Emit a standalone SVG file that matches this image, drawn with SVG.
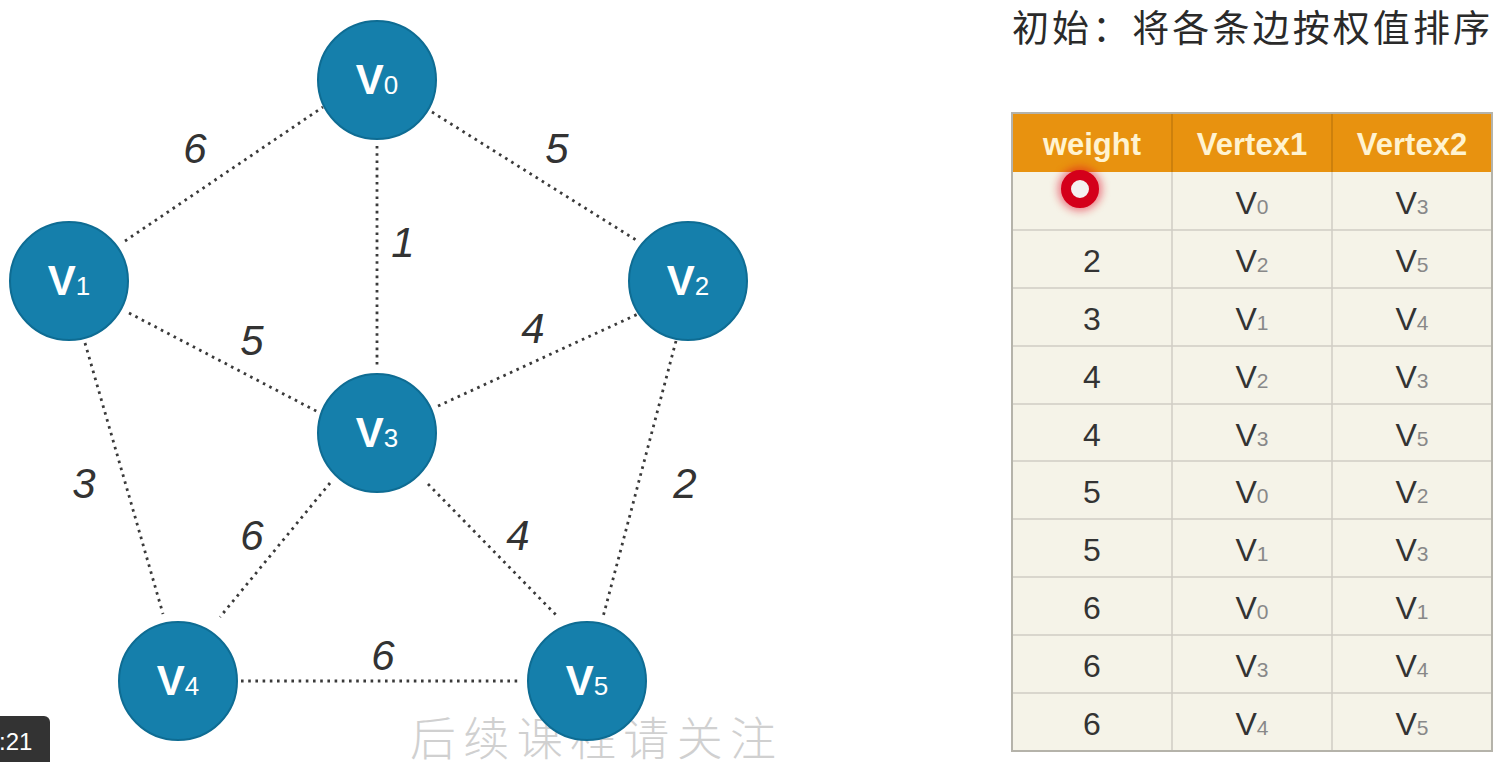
<svg xmlns="http://www.w3.org/2000/svg" width="1509" height="762" viewBox="0 0 1509 762">
  <defs>
    <style>
      .node circle { fill: #157fab; stroke: #0e6c93; stroke-width: 2; }
      .nlabel { font-family: "Liberation Sans", Arial, sans-serif; font-size: 42px; font-weight: bold; fill: #ffffff; text-anchor: middle; }
      .nsub { font-size: 26px; font-weight: normal; }
      .edge { stroke: #3a3a3a; stroke-width: 2.8; stroke-dasharray: 2.6 4.6; fill: none; }
      .elabel { font-family: "Liberation Sans", Arial, sans-serif; font-size: 42px; font-style: italic; fill: #333333; text-anchor: middle; }
      .hdr { font-family: "Liberation Sans", Arial, sans-serif; font-size: 31px; font-weight: bold; fill: #fff3d0; text-anchor: middle; }
      .cell { font-family: "Liberation Sans", Arial, sans-serif; font-size: 32px; fill: #333333; text-anchor: middle; }
      .csub { font-size: 21px; fill: #888888; }
      .grid { stroke: #cfcdc4; stroke-width: 1.5; }
      .hgrid { stroke: #c57a0c; stroke-width: 1.5; }
    </style>
    <filter id="blur" x="-1" y="-1" width="3" height="3">
      <feGaussianBlur stdDeviation="4"/>
    </filter>
  </defs>

  <rect x="0" y="0" width="1509" height="762" fill="#ffffff"/>

  <!-- watermark (behind nodes) -->
  <text x="410" y="755" font-family="'Noto Sans CJK SC', sans-serif" font-size="46" font-weight="300" fill="#d0d0d0" textLength="366" lengthAdjust="spacing">后续课程请关注</text>

  <!-- connectors -->
  <g id="edges">
    <line class="edge" x1="125" y1="241" x2="323" y2="107"/>
    <line class="edge" x1="432" y1="112" x2="636" y2="240"/>
    <line class="edge" x1="377" y1="146" x2="377" y2="366"/>
    <line class="edge" x1="129" y1="313" x2="318" y2="412"/>
    <line class="edge" x1="85" y1="343" x2="163" y2="614"/>
    <line class="edge" x1="438" y1="406" x2="638" y2="314"/>
    <line class="edge" x1="676" y1="341" x2="603" y2="617"/>
    <line class="edge" x1="330" y1="483" x2="220" y2="617"/>
    <line class="edge" x1="428" y1="484" x2="558" y2="617"/>
    <line class="edge" x1="241" y1="681" x2="521" y2="681"/>
  </g>

  <g id="edge-labels">
    <text class="elabel" x="195" y="163">6</text>
    <text class="elabel" x="557" y="163">5</text>
    <text class="elabel" x="403" y="257">1</text>
    <text class="elabel" x="252" y="355">5</text>
    <text class="elabel" x="533" y="343">4</text>
    <text class="elabel" x="84" y="498">3</text>
    <text class="elabel" x="685" y="498">2</text>
    <text class="elabel" x="252" y="550">6</text>
    <text class="elabel" x="518" y="550">4</text>
    <text class="elabel" x="383" y="670">6</text>
  </g>

  <!-- nodes -->
  <g id="V0" class="node">
    <circle cx="377" cy="80" r="59"/>
    <text class="nlabel" x="377" y="94">V<tspan class="nsub">0</tspan></text>
  </g>
  <g id="V1" class="node">
    <circle cx="69" cy="281" r="59"/>
    <text class="nlabel" x="69" y="295">V<tspan class="nsub">1</tspan></text>
  </g>
  <g id="V2" class="node">
    <circle cx="688" cy="281" r="59"/>
    <text class="nlabel" x="688" y="295">V<tspan class="nsub">2</tspan></text>
  </g>
  <g id="V3" class="node">
    <circle cx="377" cy="433" r="59"/>
    <text class="nlabel" x="377" y="447">V<tspan class="nsub">3</tspan></text>
  </g>
  <g id="V4" class="node">
    <circle cx="178" cy="681" r="59"/>
    <text class="nlabel" x="178" y="695">V<tspan class="nsub">4</tspan></text>
  </g>
  <g id="V5" class="node">
    <circle cx="587" cy="681" r="59"/>
    <text class="nlabel" x="587" y="695">V<tspan class="nsub">5</tspan></text>
  </g>

  <!-- title -->
  <text x="1012" y="42" font-family="'Noto Sans CJK SC', 'Liberation Sans', sans-serif" font-size="37" fill="#2a2a2a" textLength="478" lengthAdjust="spacing">初始：将各条边按权值排序</text>

  <!-- table -->
  <g id="table">
    <rect x="1012" y="113" width="480" height="59" fill="#e8920f"/>
    <rect x="1012" y="172" width="480" height="579" fill="#f5f3e8"/>
    <g class="hgrid">
      <line x1="1172" y1="113" x2="1172" y2="172"/>
      <line x1="1332" y1="113" x2="1332" y2="172"/>
    </g>
    <g class="grid">
      <line x1="1172" y1="172" x2="1172" y2="751"/>
      <line x1="1332" y1="172" x2="1332" y2="751"/>
      <line x1="1012" y1="230" x2="1492" y2="230"/>
      <line x1="1012" y1="288" x2="1492" y2="288"/>
      <line x1="1012" y1="346" x2="1492" y2="346"/>
      <line x1="1012" y1="404" x2="1492" y2="404"/>
      <line x1="1012" y1="461" x2="1492" y2="461"/>
      <line x1="1012" y1="519" x2="1492" y2="519"/>
      <line x1="1012" y1="577" x2="1492" y2="577"/>
      <line x1="1012" y1="635" x2="1492" y2="635"/>
      <line x1="1012" y1="693" x2="1492" y2="693"/>
    </g>
    <rect x="1012" y="113" width="480" height="638" fill="none" stroke="#b5b3aa" stroke-width="2"/>

    <text class="hdr" x="1092" y="155">weight</text>
    <text class="hdr" x="1252" y="155">Vertex1</text>
    <text class="hdr" x="1412" y="155">Vertex2</text>

    <text class="cell" x="1252" y="214">V<tspan class="csub">0</tspan></text>
    <text class="cell" x="1412" y="214">V<tspan class="csub">3</tspan></text>

    <text class="cell" x="1092" y="272">2</text>
    <text class="cell" x="1252" y="272">V<tspan class="csub">2</tspan></text>
    <text class="cell" x="1412" y="272">V<tspan class="csub">5</tspan></text>

    <text class="cell" x="1092" y="330">3</text>
    <text class="cell" x="1252" y="330">V<tspan class="csub">1</tspan></text>
    <text class="cell" x="1412" y="330">V<tspan class="csub">4</tspan></text>

    <text class="cell" x="1092" y="388">4</text>
    <text class="cell" x="1252" y="388">V<tspan class="csub">2</tspan></text>
    <text class="cell" x="1412" y="388">V<tspan class="csub">3</tspan></text>

    <text class="cell" x="1092" y="446">4</text>
    <text class="cell" x="1252" y="446">V<tspan class="csub">3</tspan></text>
    <text class="cell" x="1412" y="446">V<tspan class="csub">5</tspan></text>

    <text class="cell" x="1092" y="503">5</text>
    <text class="cell" x="1252" y="503">V<tspan class="csub">0</tspan></text>
    <text class="cell" x="1412" y="503">V<tspan class="csub">2</tspan></text>

    <text class="cell" x="1092" y="561">5</text>
    <text class="cell" x="1252" y="561">V<tspan class="csub">1</tspan></text>
    <text class="cell" x="1412" y="561">V<tspan class="csub">3</tspan></text>

    <text class="cell" x="1092" y="619">6</text>
    <text class="cell" x="1252" y="619">V<tspan class="csub">0</tspan></text>
    <text class="cell" x="1412" y="619">V<tspan class="csub">1</tspan></text>

    <text class="cell" x="1092" y="677">6</text>
    <text class="cell" x="1252" y="677">V<tspan class="csub">3</tspan></text>
    <text class="cell" x="1412" y="677">V<tspan class="csub">4</tspan></text>

    <text class="cell" x="1092" y="735">6</text>
    <text class="cell" x="1252" y="735">V<tspan class="csub">4</tspan></text>
    <text class="cell" x="1412" y="735">V<tspan class="csub">5</tspan></text>
  </g>

  <!-- pointer marker -->
  <g id="pointer">
    <circle cx="1080" cy="189" r="22" fill="#e0001b" opacity="0.5" filter="url(#blur)"/>
    <circle cx="1080" cy="189" r="14" fill="#f4f0f0" stroke="#d4001a" stroke-width="10"/>
  </g>

  <!-- timestamp overlay -->
  <g id="timestamp">
    <rect x="-10" y="716" width="60" height="52" rx="6" fill="#333333"/>
    <text x="-1" y="750" font-family="'Liberation Sans', Arial, sans-serif" font-size="24" fill="#ffffff">:21</text>
  </g>
</svg>
